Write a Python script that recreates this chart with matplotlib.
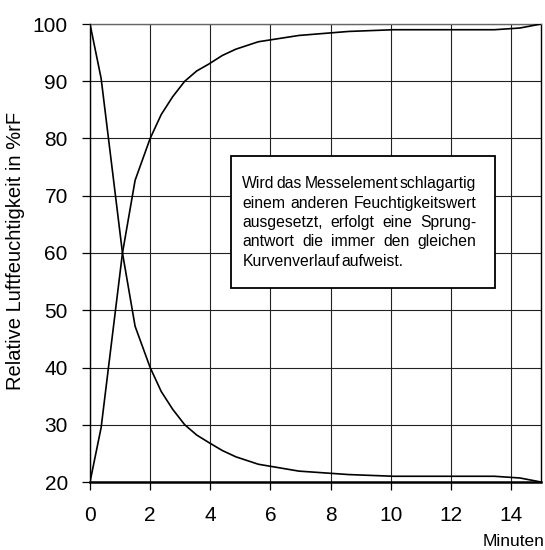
import matplotlib
matplotlib.use("Agg")
import matplotlib.pyplot as plt
from matplotlib.patches import Rectangle

plt.rcParams['font.family'] = ['Liberation Sans', 'DejaVu Sans']

# Sprungantwort des Feuchtesensors
minuten = [0, 0.37, 1.08, 1.5, 2.0, 2.37, 2.75, 3.15, 3.55, 3.95, 4.4, 4.85, 5.6, 6.95, 8.6, 10.1, 13.45, 14.3, 15]
steigend = [20, 29.5, 60, 72.7, 80, 84.2, 87.3, 90, 91.8, 93, 94.5, 95.6, 96.9, 98, 98.7, 99, 99, 99.3, 100]
fallend = [100, 90.5, 60, 47.2, 40, 35.8, 32.7, 30, 28.2, 26.9, 25.5, 24.4, 23.1, 21.9, 21.3, 21, 21, 20.7, 20]

x_ticks = [0, 2, 4, 6, 8, 10, 12, 14]
y_ticks = [20, 30, 40, 50, 60, 70, 80, 90, 100]

info_zeilen = [
    "Wird das Messelement schlagartig",
    "einem anderen Feuchtigkeitswert",
    "ausgesetzt, erfolgt eine Sprung-",
    "antwort die immer den gleichen",
    "Kurvenverlauf aufweist.",
]

fig = plt.figure(figsize=(5.45, 5.5), dpi=100)
ax = fig.add_axes([90 / 545, 1 - 482 / 550, 451 / 545, 458 / 550])

ax.plot(minuten, steigend, color="black", lw=1.2, zorder=3)
ax.plot(minuten, fallend, color="black", lw=1.2, zorder=3)

ax.set_xlim(0, 15)
ax.set_ylim(20, 100)
ax.set_xticks(x_ticks)
ax.set_yticks(y_ticks)
ax.grid(True, color="#222222", lw=0.8)
ax.set_axisbelow(True)
ax.tick_params(axis="both", direction="out", length=6, width=0.9, labelsize=15, colors="black")
ax.tick_params(axis="x", pad=11)
ax.tick_params(axis="y", pad=10)
for s in ax.spines.values():
    s.set_linewidth(1.0)
ax.spines["bottom"].set_linewidth(1.8)
ax.spines["top"].set_color("#666666")

fig.text(16 / 545, 1 - 251 / 550, "Relative Luftfeuchtigkeit in %rF", rotation=90,
         ha="center", va="center", fontsize=14.5)
fig.text(545 / 545, 1 - 541 / 550, "Minuten", ha="right", va="center", fontsize=12.5)

# Infobox
box_x0, box_x1 = 4.70, 13.48
box_y0, box_y1 = 53.9, 76.9
ax.add_patch(Rectangle((box_x0, box_y0), box_x1 - box_x0, box_y1 - box_y0,
                       facecolor="white", edgecolor="black", lw=1.3, zorder=4))

fs = 11.3
fig.canvas.draw()
renderer = fig.canvas.get_renderer()
px_per_x = ax.transData.transform((1, 0))[0] - ax.transData.transform((0, 0))[0]
px_per_10y = ax.transData.transform((0, 10))[1] - ax.transData.transform((0, 0))[1]
links = box_x0 + (242 - 231) / px_per_x
rechts = box_x0 + (476 - 231) / px_per_x
y_start = 100 - (184 - 24) / (px_per_10y / 10)
zeilenabstand = 19.3 / (px_per_10y / 10)

for i, zeile in enumerate(info_zeilen):
    y = y_start - i * zeilenabstand
    woerter = zeile.split(" ")
    texte = [ax.text(links, y, w, fontsize=fs, va="center", ha="left", zorder=5) for w in woerter]
    breiten = [t.get_window_extent(renderer).width / px_per_x for t in texte]
    if i < len(info_zeilen) - 1:
        luecke = (rechts - links - sum(breiten)) / (len(woerter) - 1)
        luecke = max(luecke, 1.0 / px_per_x)
    else:
        luecke = 2.0 / px_per_x
    pos = links
    for t, b in zip(texte, breiten):
        t.set_x(pos)
        pos += b + luecke

fig.savefig("out.png", dpi=100)
